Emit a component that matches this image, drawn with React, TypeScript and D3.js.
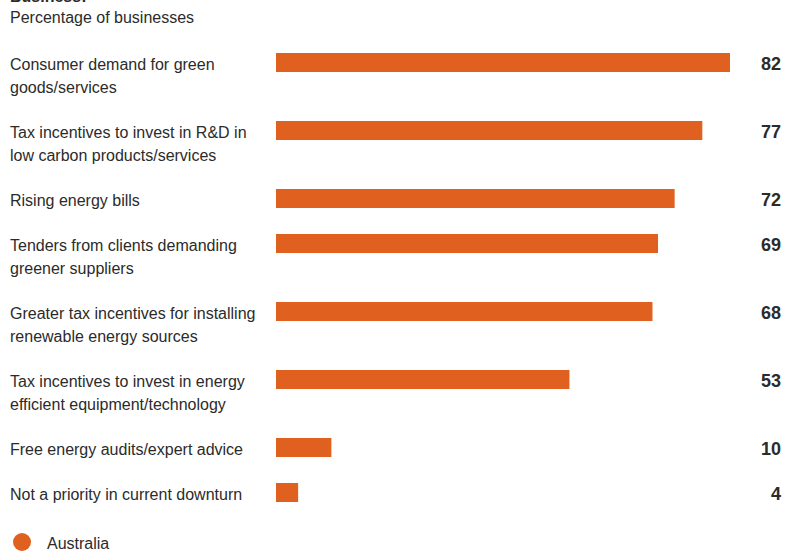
import React from "react";
import * as d3 from "d3";

const categories: string[][] = [
  ["Consumer demand for green", "goods/services"],
  ["Tax incentives to invest in R&D in", "low carbon products/services"],
  ["Rising energy bills"],
  ["Tenders from clients demanding", "greener suppliers"],
  ["Greater tax incentives for installing", "renewable energy sources"],
  ["Tax incentives to invest in energy", "efficient equipment/technology"],
  ["Free energy audits/expert advice"],
  ["Not a priority in current downturn"],
];
const values: number[] = [82, 77, 72, 69, 68, 53, 10, 4];
const seriesName = "Australia";
const titleText = "Business:";
const subtitleText = "Percentage of businesses";

const W = 797;
const H = 553;
const ORANGE = "#E0601F";
const TEXT = "#2b2b2b";
const LABEL_FONT = "'Liberation Sans', Arial, sans-serif";
const BOLD_FONT = "'Liberation Sans', Arial, sans-serif";

export default function App() {
  const x = d3.scaleLinear().domain([0, 82]).range([276, 730]);
  // layout units: each line 23 px + 22 px gap per row
  const offsets: number[] = [];
  let acc = 0;
  categories.forEach((c) => {
    offsets.push(acc);
    acc += c.length * 23 + 22;
  });
  const y = d3.scaleLinear().domain([0, 1]).range([62.5, 63.5]);
  const barH = 19;

  return (
    <svg width={W} height={H} style={{ position: "absolute", left: 0, top: 0, background: "#fff" }}>
      <text x={10} y={2} fontFamily={BOLD_FONT} fontWeight="bold" fontSize={16} fill={TEXT}>
        {titleText}
      </text>
      <text x={10} y={23} fontFamily={LABEL_FONT} fontSize={16} fill={TEXT}>
        {subtitleText}
      </text>
      {categories.map((lines, i) => {
        const cy = y(offsets[i]);
        return (
          <g key={i}>
            {lines.map((ln, j) => (
              <text key={j} x={10} y={cy + 7 + j * 23} fontFamily={LABEL_FONT} fontSize={16} fill={TEXT}>
                {ln}
              </text>
            ))}
            <rect x={x(0)} y={cy - barH / 2} width={x(values[i]) - x(0)} height={barH} fill={ORANGE} />
            <text
              x={781}
              y={cy + 7.5}
              textAnchor="end"
              fontFamily={BOLD_FONT}
              fontWeight="bold"
              fontSize={18}
              fill={TEXT}
            >
              {values[i]}
            </text>
          </g>
        );
      })}
      <circle cx={22} cy={542} r={9} fill={ORANGE} />
      <text x={47} y={549} fontFamily={LABEL_FONT} fontSize={16} fill={TEXT}>
        {seriesName}
      </text>
    </svg>
  );
}
